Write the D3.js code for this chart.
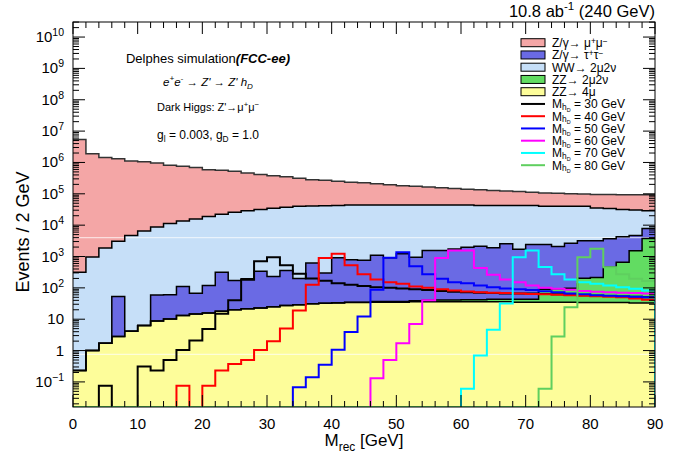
<!DOCTYPE html>
<html><head><meta charset="utf-8">
<script src="https://cdn.jsdelivr.net/npm/d3@7"></script>
<style>
body{margin:0;background:#fff}
svg{display:block}
text{font-family:"Liberation Sans",Arial,Helvetica,sans-serif;fill:#000}
</style>
</head><body>
<svg id="c" width="697" height="457"></svg>
<script>
// ---------------- data (events per 2 GeV bin, 0-90 GeV) ----------------
const binWidth = 2;
const xTickLabels = ["0","10","20","30","40","50","60","70","80","90"];
const yDecades = [-1,0,1,2,3,4,5,6,7,8,9,10];

const zz4mu = [0.23,1.0,1.7,2.8,4.1,6.3,8.7,10.2,13.2,14.8,
  15.8,17.8,20,21.4,22.9,25.1,27.5,28.8,30.9,32.4,
  33,34,34,35,35,35,36,36,36,36,
  36,36,36,36,35,35,35,35,35,34,
  34,34,34,33,33];
const zz2mu2nu = [0,0,0,0,0,0,0,0,0,0,
  0,0,0,0,0,0,0,0,0,0,
  0.5,0.8,1,1.5,2,2,3,4,5,5,
  6,6,7,7,8,8,55,58,62,170,
  180,420,620,1500,3700];
const tautau = [0,0,0,50,0,0,51,50,97,53,
  104,298,153,174,317,205,333,171,589,263,
  878,759,723,1059,875,1192,916,1509,1508,1700,
  1950,2100,1860,2530,1655,2356,2310,1996,2533,2958,
  2948,3261,3612,3144,4029];
const ww = [316,955,1860,3040,4680,6460,8650,11160,13380,15780,
  18930,22070,25530,28650,31280,34440,36790,39610,40120,41400,
  41750,42860,42890,42550,42740,42420,42700,42100,42100,41910,
  41650,40520,40750,40090,40960,40260,37410,37720,37180,36650,
  32320,30170,27350,25520,21080];
const mumu = [5370000,1904000,1443000,1315000,1117000,1041000,946000,802000,745000,676000,
  570000,540000,499000,428000,385000,345000,310000,276000,241000,227000,
  208000,190000,180000,165000,151000,138000,130000,122000,111000,104000,
  97000,92000,86000,80000,75000,69000,67000,65000,60000,58000,
  60000,62000,62000,63000,64000];

const sigM30 = [0,0,0.076,0,0,0.31,0.23,0.5,1.05,2.1,
  4.9,15,40,180,700,950,525,280,200,170,
  140,125,115,105,100,95,90,85,80,75,
  72,70,68,66,66,66,64,62,60,58,
  56,55,53,52,50];
const sigM40 = [0,0,0,0,0,0,0,0,0.076,0,
  0.076,0.23,0.37,0.5,1.05,2.0,5.1,19,126,900,
  1230,525,270,186,150,135,110,100,91,83,
  76,72,70,68,66,64,62,60,58,56,
  54,52,50,46,42];
const sigM50 = [0,0,0,0,0,0,0,0,0,0,
  0,0,0,0,0,0,0,0.068,0.14,0.35,
  1.07,3.9,12.3,87,912,1380,490,270,195,150,
  140,118,105,95,90,85,78,72,66,62,
  58,56,54,52,50];
const sigM60 = [0,0,0,0,0,0,0,0,0,0,
  0,0,0,0,0,0,0,0,0,0,
  0,0,0,0.13,0.5,1.7,7,40,900,1550,
  1550,430,263,186,150,120,100,93,87,80,
  75,72,70,68,66];
const sigM70 = [0,0,0,0,0,0,0,0,0,0,
  0,0,0,0,0,0,0,0,0,0,
  0,0,0,0,0,0,0,0,0,0,
  0.06,0.7,4.6,32,950,1550,460,270,186,150,
  135,120,105,93,83];
const sigM80 = [0,0,0,0,0,0,0,0,0,0,
  0,0,0,0,0,0,0,0,0,0,
  0,0,0,0,0,0,0,0,0,0,
  0,0,0,0,0,0,0.06,2.8,24,950,
  1780,457,270,195,166];
const patternSeams = [3980, 0.76];

// ---------------- setup ----------------
const svg = d3.select("#c");
const P = {l:73, r:655, t:22, b:407};
const x = d3.scaleLinear().domain([0,90]).range([P.l,P.r]);
const y = d3.scaleLog().domain([Math.pow(10,-1.8), Math.pow(10,10.48)]).range([P.b,P.t]);
const yMin = y.domain()[0];
const yc = v => y(Math.max(v, yMin));
const nb = mumu.length;

const C = {red:"#f4a6a6", lblue:"#c6dff8", blue:"#6a6ae4", green:"#62dc62", yellow:"#fdfd9a"};

const defs = svg.append("defs");
defs.append("clipPath").attr("id","plotclip").append("rect")
  .attr("x",P.l).attr("y",P.t).attr("width",P.r-P.l).attr("height",P.b-P.t);

svg.append("rect").attr("width",697).attr("height",457).attr("fill","#fff");

// stack (bottom -> top)
const layers = [
  {vals:zz4mu, fill:C.yellow},
  {vals:zz2mu2nu, fill:C.green},
  {vals:tautau, fill:C.blue},
  {vals:ww, fill:C.lblue},
  {vals:mumu, fill:C.red}
];
let run = new Array(nb).fill(0);
layers.forEach(L => { run = run.map((r,i)=> r + L.vals[i]); L.cum = run.slice(); });

function stepPts(vals){
  const pts = [];
  vals.forEach((v,i)=>{ pts.push([i*binWidth, v]); pts.push([(i+1)*binWidth, v]); });
  return pts;
}
const g = svg.append("g").attr("clip-path","url(#plotclip)");
const area = d3.area().x(d=>x(d[0])).y0(P.b).y1(d=>yc(d[1]));
const line = d3.line().x(d=>x(d[0])).y(d=>yc(d[1]));

for (let k = layers.length-1; k >= 0; k--) {
  g.append("path").attr("d", area(stepPts(layers[k].cum))).attr("fill", layers[k].fill);
}
patternSeams.forEach(v => g.append("line").attr("x1",P.l).attr("x2",P.r)
  .attr("y1",y(v)).attr("y2",y(v)).attr("stroke","#fff").attr("stroke-width",1).attr("opacity",0.8));
for (let k = layers.length-1; k >= 0; k--) {
  g.append("path").attr("d", line(stepPts(layers[k].cum))).attr("fill","none")
    .attr("stroke", k===4 ? "#333" : "#000").attr("stroke-width",1.5);
}

// signals
const signals = [
  {vals:sigM30, color:"#000000", label:"30"},
  {vals:sigM40, color:"#ff0000", label:"40"},
  {vals:sigM50, color:"#0000ff", label:"50"},
  {vals:sigM60, color:"#ff00ff", label:"60"},
  {vals:sigM70, color:"#00ffff", label:"70", close:true},
  {vals:sigM80, color:"#5fcf5f", label:"80"}
];
signals.forEach(s => {
  const pts = [[0,0]].concat(stepPts(s.vals));
  if (s.close) pts.push([90,0]);
  g.append("path").attr("d", line(pts)).attr("fill","none")
    .attr("stroke", s.color).attr("stroke-width",2);
});

// ---------------- axes / frame ----------------
const ax = svg.append("g").attr("stroke","#000").attr("stroke-width",1);
const xMinor = d3.range(0, 90.1, 2), xMajor = d3.range(0, 90.1, 10);
xMinor.forEach(v => {
  const L = (v % 10 === 0) ? 12 : 6;
  ax.append("line").attr("x1",x(v)).attr("x2",x(v)).attr("y1",P.b).attr("y2",P.b-L);
  ax.append("line").attr("x1",x(v)).attr("x2",x(v)).attr("y1",P.t).attr("y2",P.t+L);
});
const yMinor = [];
for (let k=-2;k<=10;k++) for (let m=2;m<=9;m++){ const v=m*Math.pow(10,k); if(v>yMin && v<y.domain()[1]) yMinor.push(v); }
yMinor.forEach(v => {
  ax.append("line").attr("x1",P.l).attr("x2",P.l+6).attr("y1",y(v)).attr("y2",y(v));
  ax.append("line").attr("x1",P.r).attr("x2",P.r-6).attr("y1",y(v)).attr("y2",y(v));
});
yDecades.forEach(k => {
  const v = Math.pow(10,k);
  ax.append("line").attr("x1",P.l).attr("x2",P.l+12).attr("y1",y(v)).attr("y2",y(v));
  ax.append("line").attr("x1",P.r).attr("x2",P.r-12).attr("y1",y(v)).attr("y2",y(v));
});
svg.append("rect").attr("x",P.l).attr("y",P.t).attr("width",P.r-P.l).attr("height",P.b-P.t)
  .attr("fill","none").attr("stroke","#000").attr("stroke-width",1);

// rich text helper
function rich(sel, parts, fs, so){
  so = so || {sup:0.4, sub:0.28, sub2:0.5};
  let cur = 0;
  parts.forEach(p => {
    const [t, type, style] = p;
    let off = 0, size = fs;
    if (type==="sup"){ off=-so.sup*fs; size=fs*0.7; }
    else if (type==="sub"){ off=so.sub*fs; size=fs*0.7; }
    else if (type==="sub2"){ off=so.sub2*fs; size=fs*0.45; }
    const ts = sel.append("tspan").attr("dy", off-cur).attr("font-size", size).text(t);
    if (style==="i") ts.attr("font-style","italic");
    if (style==="bi") ts.attr("font-style","italic").attr("font-weight","bold");
    cur = off;
  });
}

// tick labels
xTickLabels.forEach((t,i) => {
  svg.append("text").attr("x", x(xMajor[i])).attr("y", P.b+22).attr("text-anchor","middle")
    .attr("font-size",15).text(t);
});
yDecades.forEach(k => {
  const t = svg.append("text").attr("x", P.l-9).attr("y", y(Math.pow(10,k))+5)
    .attr("text-anchor","end").attr("font-size",15);
  if (k===0) t.text("1");
  else if (k===1) t.text("10");
  else rich(t, [["10","n"],[k<0?"\u2212"+(-k):String(k),"sup"]], 15);
});

// axis titles
const xt = svg.append("text").attr("x", (P.l+P.r)/2).attr("y", 446).attr("text-anchor","middle");
rich(xt, [["M","n"],["rec","sub"],[" [GeV]","n"]], 17);
svg.append("text").attr("transform","translate(29,232) rotate(-90)").attr("text-anchor","middle")
  .attr("font-size",18).text("Events / 2 GeV");

// header
const hd = svg.append("text").attr("x", P.r).attr("y", 17).attr("text-anchor","end");
rich(hd, [["10.8 ab","n"],["-1","sup"],[" (240 GeV)","n"]], 16.5);

// annotations
const cx = 208;
const a1 = svg.append("text").attr("x",cx).attr("y",63).attr("text-anchor","middle");
rich(a1, [["Delphes simulation","n"],["(FCC-ee)","n","bi"]], 13);
const a2 = svg.append("text").attr("x",cx).attr("y",86).attr("text-anchor","middle").attr("font-style","italic");
rich(a2, [["e","n"],["+","sup"],["e","n"],["-","sup"],[" \u2192 Z' \u2192 Z' h","n"],["D","sub"]], 11.5);
const a3 = svg.append("text").attr("x",cx).attr("y",111).attr("text-anchor","middle");
rich(a3, [["Dark Higgs: Z'\u2192\u03bc","n"],["+","sup"],["\u03bc","n"],["\u2212","sup"]], 11);
const a4 = svg.append("text").attr("x",cx).attr("y",139).attr("text-anchor","middle");
rich(a4, [["g","n"],["l","sub"],[" = 0.003, g","n"],["D","sub"],[" = 1.0","n"]], 12);

// legend
const legendY0 = 42.7, legendDY = 12.25, lbx = 521, lbw = 24, ltx = 552, lfs = 12;
const lso = {sup:0.28, sub:0.15, sub2:0.28};
const legendFills = [
  {fill:C.red, parts:[["Z/\u03b3\u2192 \u03bc","n"],["+","sup"],["\u03bc","n"],["\u2212","sup"]]},
  {fill:C.blue, parts:[["Z/\u03b3\u2192 \u03c4","n"],["+","sup"],["\u03c4","n"],["\u2212","sup"]]},
  {fill:C.lblue, parts:[["WW\u2192 2\u03bc2\u03bd","n"]]},
  {fill:C.green, parts:[["ZZ\u2192 2\u03bc2\u03bd","n"]]},
  {fill:C.yellow, parts:[["ZZ\u2192 4\u03bc","n"]]}
];
const lg = svg.append("g");
legendFills.forEach((e,i) => {
  const cy = legendY0 + i*legendDY;
  lg.append("rect").attr("x",lbx).attr("y",cy-4).attr("width",lbw).attr("height",8)
    .attr("fill",e.fill).attr("stroke","#000").attr("stroke-width",1);
  rich(lg.append("text").attr("x",ltx).attr("y",cy+4.3), e.parts, lfs, lso);
});
signals.forEach((s,j) => {
  const cy = legendY0 + (j+5)*legendDY;
  lg.append("line").attr("x1",lbx).attr("x2",lbx+lbw).attr("y1",cy).attr("y2",cy)
    .attr("stroke",s.color).attr("stroke-width",2);
  rich(lg.append("text").attr("x",ltx).attr("y",cy+4.3),
    [["M","n"],["h","sub"],["D","sub2"],[" = "+s.label+" GeV","n"]], lfs, lso);
});
</script>
</body></html>
